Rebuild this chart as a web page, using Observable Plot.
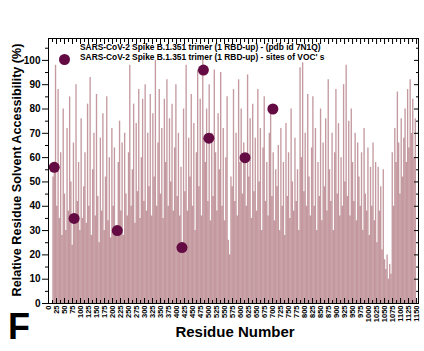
<!DOCTYPE html>
<html>
<head>
<meta charset="utf-8">
<script src="https://cdn.jsdelivr.net/npm/d3@7"></script>
<script src="https://cdn.jsdelivr.net/npm/@observablehq/plot@0.6"></script>
<style>
  html, body { margin: 0; padding: 0; background: #fff; }
  #wrap { position: relative; width: 424px; height: 351px; font-family: "Liberation Sans", Arial, sans-serif; }
  #wrap svg { position: absolute; left: 0; top: 0; }
  .lbl { position: absolute; font-weight: bold; color: #000; white-space: nowrap; line-height: 1; }
</style>
</head>
<body>
<div id="wrap"></div>
<script>
// Residue numbering of the bars: first residue and step between sampled residues
const firstResidue = 14;
const residueStep = 4;

const rsa = [
  // 14 - 110
  52, 56, 98, 40, 88, 35, 62, 28, 80, 45, 30, 72, 38, 85, 50, 24, 66, 35, 90, 42, 58, 30, 76, 35, 48,
  // 114 - 210
  62, 33, 82, 40, 93, 28, 55, 70, 36, 86, 44, 25, 68, 38, 78, 30, 52, 85, 34, 60, 27, 72, 40, 64, 30,
  // 214 - 310
  30, 58, 75, 38, 66, 28, 70, 45, 36, 62, 98, 40, 55, 82, 33, 74, 46, 88, 35, 60, 84, 42, 90, 38, 70,
  // 314 - 410
  48, 86, 36, 78, 52, 100, 40, 66, 88, 45, 72, 35, 84, 58, 92, 40, 76, 50, 82, 38, 64, 90, 44, 70, 36,
  // 414 - 510
  56, 23, 80, 46, 98, 38, 68, 52, 86, 40, 74, 30, 62, 96, 48, 84, 36, 100, 68, 58, 80, 42, 90, 34, 70,
  // 514 - 610
  44, 96, 62, 38, 78, 55, 95, 40, 72, 34, 60, 85, 26, 20, 52, 48, 88, 42, 70, 36, 92, 58, 80, 45, 66,
  // 614 - 710
  60, 40, 94, 52, 76, 35, 82, 46, 68, 38, 88, 50, 72, 30, 64, 85, 42, 58, 36, 70, 80, 44, 62, 34, 55,
  // 714 - 810
  48, 65, 30, 72, 40, 58, 28, 74, 44, 62, 35, 80, 50, 38, 68, 42, 55, 30, 97, 60, 99, 46, 70, 40, 86,
  // 814 - 910
  52, 36, 64, 85, 40, 72, 30, 58, 44, 80, 34, 66, 48, 76, 38, 92, 55, 42, 70, 30, 62, 88, 45, 74, 36,
  // 914 - 1010
  60, 40, 90, 50, 98, 44, 75, 36, 80, 58, 42, 70, 34, 66, 52, 40, 62, 30, 72, 45, 38, 64, 28, 56, 40,
  // 1014 - 1110
  66, 34, 58, 25, 56, 38, 48, 22, 55, 18, 14, 20, 10, 16, 12, 62, 40, 72, 58, 87, 66, 45, 76, 52, 68,
  // 1114 - 1146
  80, 58, 88, 64, 92, 70, 84, 60, 76
];

// Sites of variants of concern
const vocResidues = [18, 80, 215, 417, 484, 501, 614, 701];
const vocValues   = [56, 35, 30, 23, 96, 68, 60, 80];

// Axis ticks
const xTicks = d3.range(0, 1151, 25);
const xMinorTicks = d3.range(12.5, 1156, 25);
const yTicks = d3.range(0, 101, 10);
const yMinorTicks = d3.range(5, 106, 10);

const seriesLabel = "SARS-CoV-2 Spike B.1.351 trimer (1 RBD-up)  - (pdb id 7N1Q)";
const vocLabel = "SARS-CoV-2 Spike B.1.351 trimer (1 RBD-up) - sites of VOC' s";
const yTitle = "Relative Residue Solvent Accessibility (%)";
const xTitle = "Residue Number";
const panelLetter = "F";

const bars = rsa.map((v, i) => ({residue: firstResidue + i * residueStep, value: v}));
const voc = vocResidues.map((r, i) => ({residue: r, value: vocValues[i]}));

const barColor = "#9c5760";
const dotColor = "#640b43";
const empty = () => "";

const chart = Plot.plot({
  width: 424,
  height: 351,
  marginLeft: 48,
  marginRight: 6,
  marginTop: 38,
  marginBottom: 48,
  style: {fontFamily: "'Liberation Sans', Arial, sans-serif", background: "transparent", overflow: "visible"},
  x: {domain: [0, 1156]},
  y: {domain: [0, 109]},
  marks: [
    Plot.ruleX(bars, {x: "residue", y1: 0, y2: "value", stroke: barColor, strokeOpacity: 0.6, strokeWidth: 1.35}),
    Plot.dot(voc, {x: "residue", y: "value", r: 5.5, fill: dotColor, stroke: "none"}),
    Plot.frame({stroke: "#000", strokeWidth: 1}),
    // left axis: outward ticks + labels
    Plot.axisY(yTicks, {anchor: "left", tickSize: 6, tickPadding: 2, fontSize: 10, fontWeight: "bold", label: null}),
    Plot.axisY(yMinorTicks, {anchor: "left", tickSize: 3, tickFormat: empty, label: null}),
    // right axis: inward ticks
    Plot.axisY(yTicks, {anchor: "right", tickSize: 5, dx: -5, tickFormat: empty, label: null}),
    Plot.axisY(yMinorTicks, {anchor: "right", tickSize: 3, dx: -3, tickFormat: empty, label: null}),
    // bottom axis: inward ticks + rotated labels
    Plot.axisX(xTicks, {anchor: "bottom", tickSize: 5, dy: -5, tickFormat: empty, label: null}),
    Plot.axisX(xMinorTicks, {anchor: "bottom", tickSize: 3, dy: -3, tickFormat: empty, label: null}),
    Plot.axisX(xTicks, {anchor: "bottom", tickSize: 0, tickPadding: 2, tickRotate: -90, tickFormat: d3.format("d"), fontSize: 7.5, fontWeight: "bold", label: null}),
    // top axis: inward ticks
    Plot.axisX(xTicks, {anchor: "top", tickSize: 5, dy: 5, tickFormat: empty, label: null}),
    Plot.axisX(xMinorTicks, {anchor: "top", tickSize: 3, dy: 3, tickFormat: empty, label: null})
  ]
});

const wrap = document.getElementById("wrap");
wrap.appendChild(chart);

function addLabel(text, css) {
  const d = document.createElement("div");
  d.className = "lbl";
  d.textContent = text;
  Object.assign(d.style, css);
  wrap.appendChild(d);
  return d;
}

// legend
const legendDot = document.createElement("div");
Object.assign(legendDot.style, {position: "absolute", left: "59px", top: "54px", width: "11px", height: "11px", borderRadius: "50%", background: dotColor});
wrap.appendChild(legendDot);
addLabel(seriesLabel, {left: "80px", top: "43px", fontSize: "8.4px"});
addLabel(vocLabel, {left: "80px", top: "53px", fontSize: "8.4px"});

// y title (rotated)
addLabel(yTitle, {left: "17px", top: "170px", fontSize: "12.6px", transform: "translate(-50%, -50%) rotate(-90deg)"});
// x title
addLabel(xTitle, {left: "235px", top: "331px", fontSize: "15px", transform: "translate(-50%, -50%)"});
// panel letter
addLabel(panelLetter, {left: "8px", top: "309px", fontSize: "36px"});
</script>
</body>
</html>
